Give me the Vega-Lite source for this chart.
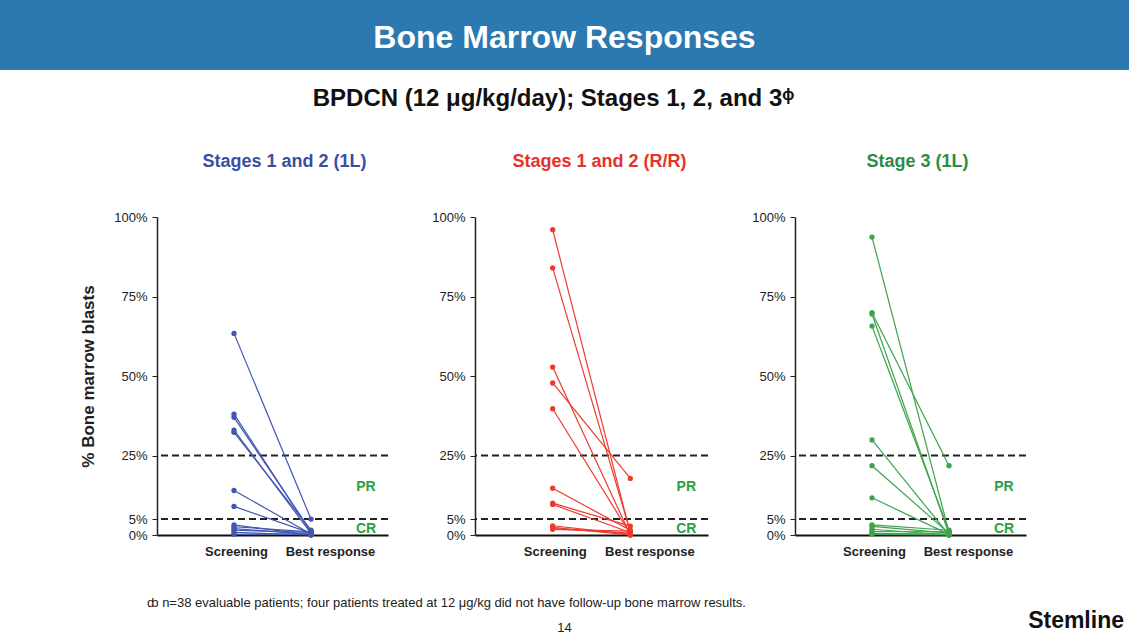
{
  "$schema": "https://vega.github.io/schema/vega-lite/v6.json",
  "padding": 0,
  "background": "white",
  "spacing": 17,
  "config": {
    "view": {"stroke": null},
    "font": "Liberation Sans",
    "title": {"font": "Liberation Sans"},
    "axis": {"labelFont": "Liberation Sans", "titleFont": "Liberation Sans"}
  },
  "datasets": {
    "stage12_1L": [
      {"patient": "A01", "timepoint": "Screening", "blasts": 63.4}, {"patient": "A01", "timepoint": "Best response", "blasts": 5.0},
      {"patient": "A02", "timepoint": "Screening", "blasts": 38.0}, {"patient": "A02", "timepoint": "Best response", "blasts": 0.8},
      {"patient": "A03", "timepoint": "Screening", "blasts": 37.0}, {"patient": "A03", "timepoint": "Best response", "blasts": 1.2},
      {"patient": "A04", "timepoint": "Screening", "blasts": 33.0}, {"patient": "A04", "timepoint": "Best response", "blasts": 0.5},
      {"patient": "A05", "timepoint": "Screening", "blasts": 32.3}, {"patient": "A05", "timepoint": "Best response", "blasts": 1.5},
      {"patient": "A06", "timepoint": "Screening", "blasts": 14.0}, {"patient": "A06", "timepoint": "Best response", "blasts": 0.3},
      {"patient": "A07", "timepoint": "Screening", "blasts": 9.0}, {"patient": "A07", "timepoint": "Best response", "blasts": 0.6},
      {"patient": "A08", "timepoint": "Screening", "blasts": 3.2}, {"patient": "A08", "timepoint": "Best response", "blasts": 0.0},
      {"patient": "A09", "timepoint": "Screening", "blasts": 2.6}, {"patient": "A09", "timepoint": "Best response", "blasts": 1.0},
      {"patient": "A10", "timepoint": "Screening", "blasts": 2.0}, {"patient": "A10", "timepoint": "Best response", "blasts": 0.2},
      {"patient": "A11", "timepoint": "Screening", "blasts": 1.5}, {"patient": "A11", "timepoint": "Best response", "blasts": 0.8},
      {"patient": "A12", "timepoint": "Screening", "blasts": 0.8}, {"patient": "A12", "timepoint": "Best response", "blasts": 0.0},
      {"patient": "A13", "timepoint": "Screening", "blasts": 0.2}, {"patient": "A13", "timepoint": "Best response", "blasts": 0.4}
    ],
    "stage12_RR": [
      {"patient": "B01", "timepoint": "Screening", "blasts": 96.0}, {"patient": "B01", "timepoint": "Best response", "blasts": 0.5},
      {"patient": "B02", "timepoint": "Screening", "blasts": 84.0}, {"patient": "B02", "timepoint": "Best response", "blasts": 1.0},
      {"patient": "B03", "timepoint": "Screening", "blasts": 52.8}, {"patient": "B03", "timepoint": "Best response", "blasts": 0.0},
      {"patient": "B04", "timepoint": "Screening", "blasts": 47.8}, {"patient": "B04", "timepoint": "Best response", "blasts": 17.8},
      {"patient": "B05", "timepoint": "Screening", "blasts": 39.7}, {"patient": "B05", "timepoint": "Best response", "blasts": 0.3},
      {"patient": "B06", "timepoint": "Screening", "blasts": 14.7}, {"patient": "B06", "timepoint": "Best response", "blasts": 1.5},
      {"patient": "B07", "timepoint": "Screening", "blasts": 10.0}, {"patient": "B07", "timepoint": "Best response", "blasts": 2.8},
      {"patient": "B08", "timepoint": "Screening", "blasts": 9.6}, {"patient": "B08", "timepoint": "Best response", "blasts": 0.8},
      {"patient": "B09", "timepoint": "Screening", "blasts": 2.9}, {"patient": "B09", "timepoint": "Best response", "blasts": 0.2},
      {"patient": "B10", "timepoint": "Screening", "blasts": 2.4}, {"patient": "B10", "timepoint": "Best response", "blasts": 0.0},
      {"patient": "B11", "timepoint": "Screening", "blasts": 2.0}, {"patient": "B11", "timepoint": "Best response", "blasts": 0.6},
      {"patient": "B12", "timepoint": "Screening", "blasts": 1.8}, {"patient": "B12", "timepoint": "Best response", "blasts": 1.2}
    ],
    "stage3_1L": [
      {"patient": "C01", "timepoint": "Screening", "blasts": 93.7}, {"patient": "C01", "timepoint": "Best response", "blasts": 0.8},
      {"patient": "C02", "timepoint": "Screening", "blasts": 69.9}, {"patient": "C02", "timepoint": "Best response", "blasts": 21.8},
      {"patient": "C03", "timepoint": "Screening", "blasts": 69.5}, {"patient": "C03", "timepoint": "Best response", "blasts": 0.3},
      {"patient": "C04", "timepoint": "Screening", "blasts": 65.7}, {"patient": "C04", "timepoint": "Best response", "blasts": 1.2},
      {"patient": "C05", "timepoint": "Screening", "blasts": 29.9}, {"patient": "C05", "timepoint": "Best response", "blasts": 0.0},
      {"patient": "C06", "timepoint": "Screening", "blasts": 21.8}, {"patient": "C06", "timepoint": "Best response", "blasts": 0.5},
      {"patient": "C07", "timepoint": "Screening", "blasts": 11.7}, {"patient": "C07", "timepoint": "Best response", "blasts": 0.2},
      {"patient": "C08", "timepoint": "Screening", "blasts": 3.2}, {"patient": "C08", "timepoint": "Best response", "blasts": 1.5},
      {"patient": "C09", "timepoint": "Screening", "blasts": 2.7}, {"patient": "C09", "timepoint": "Best response", "blasts": 0.6},
      {"patient": "C10", "timepoint": "Screening", "blasts": 1.8}, {"patient": "C10", "timepoint": "Best response", "blasts": 0.0},
      {"patient": "C11", "timepoint": "Screening", "blasts": 1.1}, {"patient": "C11", "timepoint": "Best response", "blasts": 1.0},
      {"patient": "C12", "timepoint": "Screening", "blasts": 0.5}, {"patient": "C12", "timepoint": "Best response", "blasts": 0.3},
      {"patient": "C13", "timepoint": "Screening", "blasts": 0.2}, {"patient": "C13", "timepoint": "Best response", "blasts": 0.0}
    ],
    "thresholds": [{"blasts": 25}, {"blasts": 5}],
    "zones": [{"zone": "PR", "blasts": 15}, {"zone": "CR", "blasts": 2}]
  },
  "vconcat": [
    {
      "width": 1129,
      "height": 70,
      "view": {"fill": "#2b79b0", "stroke": null},
      "data": {"values": [{"label": "Bone Marrow Responses"}]},
      "mark": {"type": "text", "fontSize": 32, "fontWeight": "bold", "color": "white", "baseline": "middle", "font": "Liberation Sans", "dy": 3},
      "encoding": {"text": {"field": "label"}}
    },
    {
      "title": {"text": "BPDCN (12 μg/kg/day); Stages 1, 2, and 3ᶲ", "fontSize": 24, "fontWeight": "bold", "color": "#111111", "anchor": "middle", "dx": 40, "offset": 42},
      "bounds": "flush",
      "spacing": 87,
      "hconcat": [
        {
          "width": 70,
          "height": 363,
          "data": {"values": []},
          "mark": "point",
          "encoding": {}
        },
        {
          "width": 231,
          "height": 318,
          "title": {"text": "Stages 1 and 2 (1L)", "color": "#3b4ea3", "fontSize": 18, "fontWeight": "bold", "offset": 40, "dx": 12},
          "layer": [
            {
              "data": {"name": "thresholds"},
              "mark": {"type": "rule", "strokeDash": [7, 4], "strokeWidth": 2, "color": "#222222"},
              "encoding": {"y": {"field": "blasts", "type": "quantitative"}}
            },
            {
              "data": {"name": "stage12_1L"},
              "mark": {"type": "line", "color": "#4457b0", "strokeWidth": 1.2},
              "encoding": {
                "x": {"field": "timepoint", "type": "nominal", "scale": {"type": "point", "padding": 1, "domain": ["Screening", "Best response"]},
                  "axis": {"title": null, "ticks": false, "labelAngle": 0, "labelFontWeight": "bold", "labelFontSize": 13, "labelColor": "#222222", "labelPadding": 10, "domainColor": "#111111", "domainWidth": 2,
                    "labelOffset": {"condition": {"test": "datum.value === 'Best response'", "value": 19}, "value": 2}}},
                "y": {"field": "blasts", "type": "quantitative", "scale": {"domain": [0, 100], "nice": false},
                  "axis": {"title": "% Bone marrow blasts", "titleFontSize": 17, "titleFontWeight": "bold", "titleColor": "#222222", "titlePadding": 16,
                    "values": [0, 5, 25, 50, 75, 100], "labelExpr": "datum.value + '%'", "grid": false, "labelOverlap": false,
                    "domainColor": "#222222", "domainWidth": 1.5, "tickSize": 5, "tickColor": "#222222", "labelPadding": 5, "labelFontSize": 13, "labelColor": "#222222"}},
                "detail": {"field": "patient"}
              }
            },
            {
              "data": {"name": "stage12_1L"},
              "mark": {"type": "point", "filled": true, "opacity": 1, "size": 28, "color": "#4457b0"},
              "encoding": {
                "x": {"field": "timepoint", "type": "nominal"},
                "y": {"field": "blasts", "type": "quantitative"}
              }
            },
            {
              "data": {"name": "zones"},
              "mark": {"type": "text", "color": "#2ea043", "fontSize": 14, "fontWeight": "bold", "dx": 55},
              "encoding": {
                "x": {"datum": "Best response"},
                "y": {"field": "blasts", "type": "quantitative"},
                "text": {"field": "zone"}
              }
            }
          ]
        },
        {
          "width": 233,
          "height": 318,
          "title": {"text": "Stages 1 and 2 (R/R)", "color": "#e8302c", "fontSize": 18, "fontWeight": "bold", "offset": 40, "dx": 8},
          "layer": [
            {
              "data": {"name": "thresholds"},
              "mark": {"type": "rule", "strokeDash": [7, 4], "strokeWidth": 2, "color": "#222222"},
              "encoding": {"y": {"field": "blasts", "type": "quantitative"}}
            },
            {
              "data": {"name": "stage12_RR"},
              "mark": {"type": "line", "color": "#ee3a2e", "strokeWidth": 1.2},
              "encoding": {
                "x": {"field": "timepoint", "type": "nominal", "scale": {"type": "point", "padding": 1, "domain": ["Screening", "Best response"]},
                  "axis": {"title": null, "ticks": false, "labelAngle": 0, "labelFontWeight": "bold", "labelFontSize": 13, "labelColor": "#222222", "labelPadding": 10, "domainColor": "#111111", "domainWidth": 2,
                    "labelOffset": {"condition": {"test": "datum.value === 'Best response'", "value": 19}, "value": 2}}},
                "y": {"field": "blasts", "type": "quantitative", "scale": {"domain": [0, 100], "nice": false},
                  "axis": {"title": null,
                    "values": [0, 5, 25, 50, 75, 100], "labelExpr": "datum.value + '%'", "grid": false, "labelOverlap": false,
                    "domainColor": "#222222", "domainWidth": 1.5, "tickSize": 5, "tickColor": "#222222", "labelPadding": 5, "labelFontSize": 13, "labelColor": "#222222"}},
                "detail": {"field": "patient"}
              }
            },
            {
              "data": {"name": "stage12_RR"},
              "mark": {"type": "point", "filled": true, "opacity": 1, "size": 28, "color": "#ee3a2e"},
              "encoding": {
                "x": {"field": "timepoint", "type": "nominal"},
                "y": {"field": "blasts", "type": "quantitative"}
              }
            },
            {
              "data": {"name": "zones"},
              "mark": {"type": "text", "color": "#2ea043", "fontSize": 14, "fontWeight": "bold", "dx": 56},
              "encoding": {
                "x": {"datum": "Best response"},
                "y": {"field": "blasts", "type": "quantitative"},
                "text": {"field": "zone"}
              }
            }
          ]
        },
        {
          "width": 231,
          "height": 318,
          "title": {"text": "Stage 3 (1L)", "color": "#2e8b45", "fontSize": 18, "fontWeight": "bold", "offset": 40, "dx": 7},
          "layer": [
            {
              "data": {"name": "thresholds"},
              "mark": {"type": "rule", "strokeDash": [7, 4], "strokeWidth": 2, "color": "#222222"},
              "encoding": {"y": {"field": "blasts", "type": "quantitative"}}
            },
            {
              "data": {"name": "stage3_1L"},
              "mark": {"type": "line", "color": "#3ea34c", "strokeWidth": 1.2},
              "encoding": {
                "x": {"field": "timepoint", "type": "nominal", "scale": {"type": "point", "padding": 1, "domain": ["Screening", "Best response"]},
                  "axis": {"title": null, "ticks": false, "labelAngle": 0, "labelFontWeight": "bold", "labelFontSize": 13, "labelColor": "#222222", "labelPadding": 10, "domainColor": "#111111", "domainWidth": 2,
                    "labelOffset": {"condition": {"test": "datum.value === 'Best response'", "value": 19}, "value": 2}}},
                "y": {"field": "blasts", "type": "quantitative", "scale": {"domain": [0, 100], "nice": false},
                  "axis": {"title": null,
                    "values": [0, 5, 25, 50, 75, 100], "labelExpr": "datum.value + '%'", "grid": false, "labelOverlap": false,
                    "domainColor": "#222222", "domainWidth": 1.5, "tickSize": 5, "tickColor": "#222222", "labelPadding": 5, "labelFontSize": 13, "labelColor": "#222222"}},
                "detail": {"field": "patient"}
              }
            },
            {
              "data": {"name": "stage3_1L"},
              "mark": {"type": "point", "filled": true, "opacity": 1, "size": 28, "color": "#3ea34c"},
              "encoding": {
                "x": {"field": "timepoint", "type": "nominal"},
                "y": {"field": "blasts", "type": "quantitative"}
              }
            },
            {
              "data": {"name": "zones"},
              "mark": {"type": "text", "color": "#2ea043", "fontSize": 14, "fontWeight": "bold", "dx": 55},
              "encoding": {
                "x": {"datum": "Best response"},
                "y": {"field": "blasts", "type": "quantitative"},
                "text": {"field": "zone"}
              }
            }
          ]
        }
      ]
    },
    {
      "width": 1129,
      "height": 16,
      "title": {"text": "ȸ n=38 evaluable patients; four patients treated at 12 μg/kg did not have follow-up bone marrow results.", "anchor": "start", "dx": 147, "fontSize": 13, "fontWeight": "normal", "color": "#222222", "offset": 0},
      "layer": [
        {
          "data": {"values": [{"label": "14"}]},
          "mark": {"type": "text", "fontSize": 13, "color": "#222222", "baseline": "middle"},
          "encoding": {"text": {"field": "label"}}
        },
        {
          "data": {"values": [{"label": "Stemline"}]},
          "mark": {"type": "text", "fontSize": 23, "fontWeight": "bold", "color": "#111111", "font": "Liberation Sans", "align": "right", "baseline": "middle", "dx": -5, "dy": -7},
          "encoding": {"text": {"field": "label"}, "x": {"value": "width"}}
        }
      ]
    }
  ]
}
